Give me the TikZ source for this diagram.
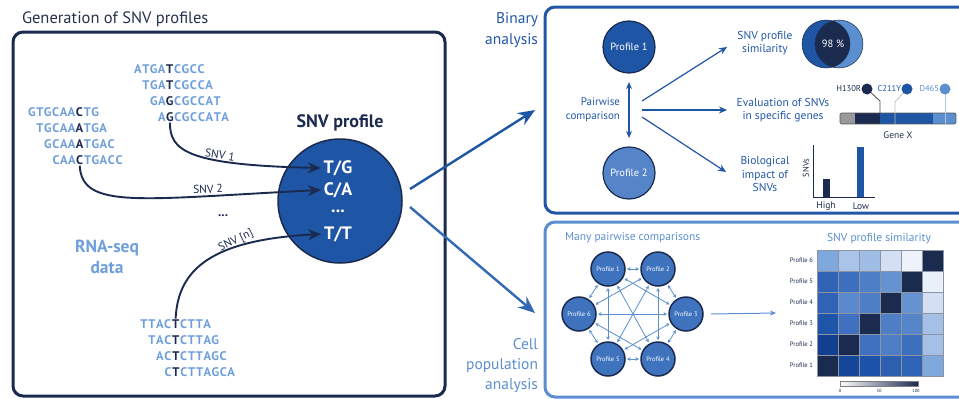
\documentclass[tikz,border=0pt]{standalone}
\usepackage{fontspec}
\setmainfont{PT Sans}
\usetikzlibrary{arrows.meta,calc}
\definecolor{navy}{HTML}{1B2A4F}
\definecolor{midblue}{HTML}{1F55A5}
\definecolor{boxblue}{HTML}{2257A8}
\definecolor{proftwo}{HTML}{5585C8}
\definecolor{seqblue}{HTML}{6F9FDB}
\definecolor{cellblue}{HTML}{5B8FD0}
\definecolor{netfill}{HTML}{3F73BE}
\definecolor{titlegray}{HTML}{26324A}
\definecolor{lightcirc}{HTML}{5B8FD0}
\definecolor{cellline}{HTML}{8C94A3}
\newcommand\seqline[5]{%
  \foreach \c [count=\i] in {#4} {%
    \ifnum\i=#5\relax
      \node[seqhi] (#1) at ({#2+(\i-1)*7.9},#3) {\c};
    \else
      \node[seq] at ({#2+(\i-1)*7.9},#3) {\c};
    \fi}}
\begin{document}
\begin{tikzpicture}[x=1pt,y=-1pt,
  every node/.style={inner sep=0pt, outer sep=0pt},
  seq/.style={font=\fontsize{12.5}{13}\selectfont\bfseries, text=seqblue},
  seqhi/.style={seq, text=navy},
  snvarrow/.style={navy, line width=1.9, -{Stealth[length=13pt,width=11pt]}},
  snvlab/.style={font=\fontsize{11.5}{12}\selectfont, text=navy},
  inprof/.style={font=\fontsize{18}{19}\selectfont\bfseries, text=white},
  blab/.style={font=\fontsize{11.5}{13.5}\selectfont, text=boxblue, align=center},
  barrow/.style={midblue, line width=1.2, -{Stealth[length=8pt,width=7pt]}},
  bigprof/.style={circle, minimum size=52, draw=navy, line width=1.2, text=white, font=\fontsize{10.5}{11}\selectfont},
  netprof/.style={circle, minimum size=34, fill=netfill, draw=navy, line width=1.5, text=white, font=\fontsize{6.5}{7}\selectfont},
  netarr/.style={cellblue, line width=0.8, {Stealth[length=3.5pt,width=3.5pt]}-{Stealth[length=3.5pt,width=3.5pt]}, shorten >=2pt, shorten <=2pt},
  hmcell/.style={draw=cellline, line width=0.9},
  rowlab/.style={font=\fontsize{6.5}{7}\selectfont, text=navy, anchor=east},
  lolli/.style={circle, minimum size=11},
  lollilab/.style={font=\fontsize{8.5}{9}\selectfont, anchor=east}
]
\useasboundingbox (0,0) rectangle (959,399);

% ---------------- left panel ----------------
\node[anchor=west, font=\fontsize{16.5}{17}\selectfont, text=titlegray] (title) at (22,19) {Generation of SNV profiles};
\draw[navy, line width=3, rounded corners=10] (13,32) rectangle (445,396);

% sequences block 1
\seqline{a1}{138}{69}{A,T,G,A,T,C,G,C,C}{5}
\seqline{a2}{146}{85}{T,G,A,T,C,G,C,C,A}{4}
\seqline{a3}{154}{101}{G,A,G,C,G,C,C,A,T}{3}
\seqline{a4}{162}{117}{A,G,C,G,C,C,A,T,A}{2}
% sequences block 2
\seqline{b1}{32}{112}{G,T,G,C,A,A,C,T,G}{7}
\seqline{b2}{40}{128}{T,G,C,A,A,A,T,G,A}{6}
\seqline{b3}{48}{144}{G,C,A,A,A,T,G,A,C}{5}
\seqline{b4}{56}{160}{C,A,A,C,T,G,A,C,C}{4}
% sequences block 3
\seqline{c1}{144}{324}{T,T,A,C,T,C,T,T,A}{5}
\seqline{c2}{152}{340}{T,A,C,T,C,T,T,A,G}{4}
\seqline{c3}{160}{356}{A,C,T,C,T,T,A,G,C}{3}
\seqline{c4}{168}{372}{C,T,C,T,T,A,G,C,A}{2}

\node[font=\fontsize{17.5}{21}\selectfont\bfseries, text=seqblue, align=center] (rna) at (107,257) {RNA-seq\\data};

% SNV profile circle
\node[font=\fontsize{18}{19}\selectfont\bfseries, text=navy] (snvtitle) at (340,123) {SNV profile};
\node[circle, minimum size=124, fill=midblue, draw=navy, line width=1.5] (snv) at (340,201) {};
\node[inprof] (tg) at (338,168) {T/G};
\node[inprof] (ca) at (338,190) {C/A};
\node[inprof] (dd) at (338,211) {...};
\node[inprof] (tt) at (338,234) {T/T};

% SNV arrows
\draw[snvarrow] ($(a4.south)+(0,1)$) .. controls (170,150) and (185,165) .. ($(tg.west)+(-3,0)$);
\draw[snvarrow] ($(b4.south)+(0,1)$) .. controls (82,210) and (140,199) .. ($(ca.west)+(-3,0)$);
\draw[snvarrow] ($(c1.north)+(0,-1)$) .. controls (178,270) and (210,240) .. ($(tt.west)+(-3,0)$);
\node[snvlab, rotate=-9] (l1) at (220,155) {SNV 1};
\node[snvlab, rotate=2] (l2) at (208,189) {SNV 2};
\node[snvlab, rotate=26] (l3) at (236,241) {SNV [n]};
\node[font=\fontsize{13}{14}\selectfont\bfseries, text=navy] (dots) at (223,216) {...};

% big arrows
\coordinate (s1) at (410,189);
\coordinate (s2) at (410,207);
\coordinate (e1) at (535,110);
\coordinate (e2) at (535,313);
\draw[midblue, line width=2.4, -{Stealth[length=17pt,width=14pt]}] (s1) -- (e1);
\draw[boxblue!70!cellblue, line width=2.4, -{Stealth[length=17pt,width=14pt]}] (s2) -- (e2);

% ---------------- binary box ----------------
\draw[boxblue, line width=3, rounded corners=10] (545,7) rectangle (990,213);
\draw[cellblue, line width=3, rounded corners=10] (545,222) rectangle (990,397);
\node[align=right, anchor=east, font=\fontsize{15.5}{21}\selectfont, text=boxblue] (binlab) at (538,30) {Binary\\analysis};
\node[align=right, anchor=east, font=\fontsize{15.5}{20}\selectfont, text=cellblue] (celllab) at (538,366) {Cell\\population\\analysis};

\node[bigprof, fill=midblue] (pr1) at (629,47) {Profile 1};
\node[bigprof, fill=proftwo] (pr2) at (629,173) {Profile 2};
\draw[midblue, line width=1.2, {Stealth[length=7pt,width=6pt]}-{Stealth[length=7pt,width=6pt]}] ($(pr1.south)+(0,9)$) -- ($(pr2.north)+(0,-9)$);
\node[align=right, anchor=east, font=\fontsize{11}{14}\selectfont, text=boxblue] (pw) at (620,110) {Pairwise\\comparison};

\coordinate (o1) at (642,101);
\coordinate (o2) at (642,110);
\coordinate (o3) at (642,117);
\node[blab] (t1) at (765,43) {SNV profile\\similarity};
\node[blab] (t2) at (783,110) {Evaluation of SNVs\\in specific genes};
\node[blab] (t3) at (765,174) {Biological\\impact of\\SNVs};
\draw[barrow] (o1) -- (727,47);
\draw[barrow] (o2) -- (727,110);
\draw[barrow] (o3) -- (726,172);

% Venn
\begin{scope}
\fill[midblue] (826,44) circle (24);
\fill[lightcirc] (839,44) circle (24);
\clip (826,44) circle (24);
\fill[navy] (839,44) circle (24);
\end{scope}
\draw[navy, line width=0.5] (826,44) circle (24);
\draw[navy, line width=0.5] (839,44) circle (24);
\node[text=white, font=\fontsize{10.5}{11}\selectfont] (pct) at (833,44) {98 \%};

% gene bar
\fill[gray!80] (840,113) rectangle (855,124);
\fill[navy] (855,113) rectangle (880,124);
\fill[midblue] (880,113) rectangle (933,124);
\fill[lightcirc] (933,113) rectangle (956,124);
\draw[gray!70!black, line width=0.6, rounded corners=1.5] (840,113) rectangle (956,124);
\draw[gray!60!black, line width=0.8] (867,89) -- (880,101) -- (880,113);
\draw[gray!50, line width=0.8] (907,89) -- (895,102) -- (895,124);
\draw[seqblue!60, line width=0.8] (945,89) -- (945,124);
\node[lolli, fill=navy] (h130) at (867,89) {};
\node[lolli, fill=midblue] (c211) at (907,89) {};
\node[lolli, fill=lightcirc] (d465) at (945,89) {};
\node[lollilab, text=navy] at (861,89) {H130R};
\node[lollilab, text=midblue] at (901,89) {C211Y};
\node[lollilab, text=lightcirc] at (939,89) {D465};
\node[font=\fontsize{9.5}{10}\selectfont, text=titlegray] (genex) at (898,135) {Gene X};

% bar chart
\draw[navy, line width=0.9] (813,145) -- (813,197) -- (875,197);
\fill[navy] (823,179) rectangle (830,197);
\fill[midblue] (857,147) rectangle (864,197);
\node[rotate=90, font=\fontsize{8.5}{9}\selectfont, text=navy] (snvs) at (806,168) {SNVs};
\node[font=\fontsize{9.5}{10}\selectfont, text=navy] (high) at (826,206) {High};
\node[font=\fontsize{9.5}{10}\selectfont, text=navy] (low) at (861,206) {Low};

% ---------------- cell population box ----------------
\node[anchor=west, font=\fontsize{11.5}{12}\selectfont, text=cellblue] (many) at (565,238) {Many pairwise comparisons};
\node[netprof] (p1) at (608,269) {Profile 1};
\node[netprof] (p2) at (658,269) {Profile 2};
\node[netprof] (p3) at (686,314) {Profile 3};
\node[netprof] (p4) at (658,359) {Profile 4};
\node[netprof] (p5) at (608,359) {Profile 5};
\node[netprof] (p6) at (579,314) {Profile 6};
\foreach \i in {1,...,5} {
  \pgfmathtruncatemacro\jstart{\i+1}
  \foreach \j in {\jstart,...,6} \draw[netarr] (p\i) -- (p\j);
}
\coordinate (hmin) at (776,313);
\draw[cellblue, line width=1, -{Stealth[length=6pt,width=5pt]}] ($(p3.east)+(8,0)$) -- (hmin);

\node[font=\fontsize{11.5}{12}\selectfont, text=cellblue] (hmtitle) at (879,239) {SNV profile similarity};
\foreach \rowc [count=\r] in {
  {7FA8DC,A9C4E8,A0BDE5,D3E0F3,EEF3FB,1B2A4F},
  {2F63B5,3D6FBF,4E7FC6,6593D2,1B2A4F,E8F0FA},
  {2F63B5,5A89CD,4E7FC6,1B2A4F,6593D2,D3E0F3},
  {1F55A8,3F71C0,1B2A4F,4E7FC6,5585C8,A5C0E6},
  {123F8F,1B2A4F,3F71C0,4E7FC6,3D6FBF,A5C0E6},
  {1B2A4F,14469A,1C53A8,2D5FB0,2F63B5,7FA8DC}} {
  \foreach \c [count=\k] in \rowc {
    \edef\tmpdef{\noexpand\definecolor{hm}{HTML}{\c}}\tmpdef
    \draw[hmcell, fill=hm] ({817+(\k-1)*21},{250+(\r-1)*21}) rectangle +(21,21);
  }
}
\foreach \n in {1,...,6}
  \node[rowlab] at (813,{250+(6-\n)*21+10.5}) {Profile \n};
\shade[left color=white, right color=navy] (840,381) rectangle (918,386);
\draw[gray, line width=0.4] (840,381) rectangle (918,386);
\node[font=\fontsize{4.5}{5}\selectfont, text=navy] at (840,391) {0};
\node[font=\fontsize{4.5}{5}\selectfont, text=navy] at (879,391) {50};
\node[font=\fontsize{4.5}{5}\selectfont, text=navy] at (916,391) {100};
\end{tikzpicture}
\end{document}
